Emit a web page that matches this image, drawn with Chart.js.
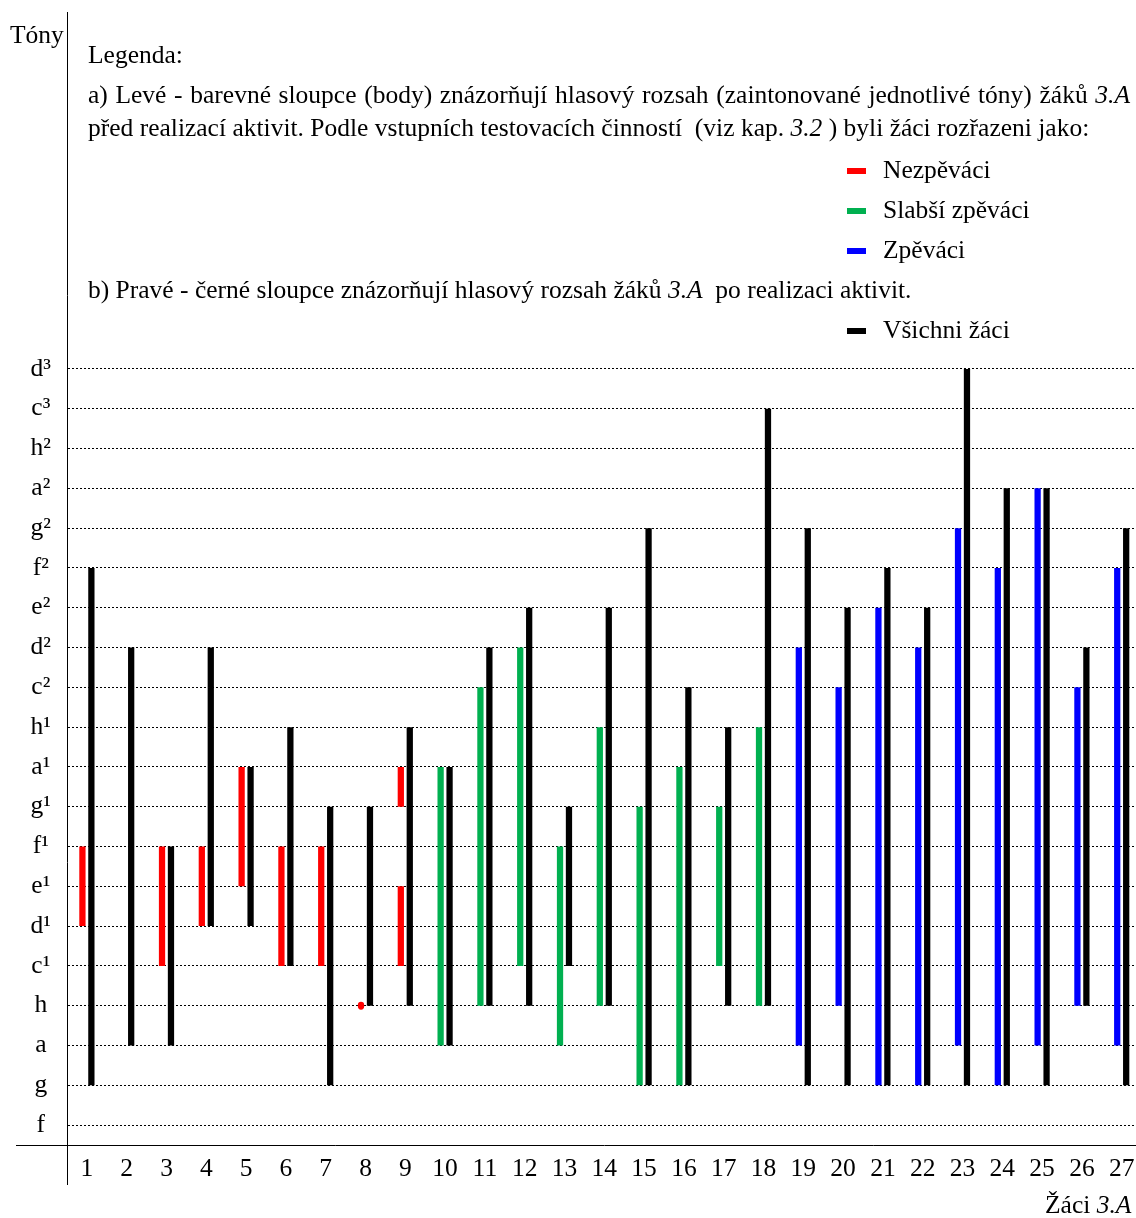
<!DOCTYPE html>
<html><head><meta charset="utf-8">
<script src="https://cdn.jsdelivr.net/npm/chart.js@4.4.1/dist/chart.umd.min.js"></script>
<style>
html,body{margin:0;padding:0;background:#fff;overflow:hidden;}
#wrap{position:relative;width:1136px;height:1218px;overflow:hidden;background:#fff;}
#c{position:absolute;left:0;top:0;}
.t{position:absolute;font-family:'Liberation Serif','Times New Roman',serif;font-size:25.5px;line-height:24px;color:#000;white-space:pre;}
.j{white-space:nowrap;text-align:justify;text-align-last:justify;}
.sw{position:absolute;width:19px;height:6px;}
</style></head><body>
<div id="wrap"><canvas id="c" width="1150" height="1218"></canvas><div id="txt"></div></div>
<script>
// ---- data ----
const tones = ['f','g','a','h','c¹','d¹','e¹','f¹','g¹','a¹','h¹','c²','d²','e²','f²','g²','a²','h²','c³','d³'];
const students = ['1','2','3','4','5','6','7','8','9','10','11','12','13','14','15','16','17','18','19','20','21','22','23','24','25','26','27'];
const groupNames = ['Nezpěváci','Slabší zpěváci','Zpěváci'];
const groupColors = ['#ff0000','#00b050','#0000ff'];
const afterName = 'Všichni žáci';
const afterColor = '#000000';
// group of each student before the activities (index into groupNames)
const studentGroup = [0,null,0,0,0,0,0,0,0,1,1,1,1,1,1,1,1,1,2,2,2,2,2,2,2,2,2];
// voice range before activities (coloured columns)
const beforeLow  = ['d¹',null,'c¹','d¹','e¹','c¹','c¹','h','c¹','a','h','c¹','a','h','g','g','c¹','h','a','h','g','g','a','g','a','h','a'];
const beforeHigh = ['f¹',null,'f¹','f¹','a¹','f¹','f¹','h','e¹','a¹','c²','d²','f¹','h¹','g¹','a¹','g¹','h¹','d²','c²','e²','d²','g²','f²','a²','c²','f²'];
// second separate segment (student 9)
const beforeExtraLow  = [null,null,null,null,null,null,null,null,'g¹',null,null,null,null,null,null,null,null,null,null,null,null,null,null,null,null,null,null];
const beforeExtraHigh = [null,null,null,null,null,null,null,null,'a¹',null,null,null,null,null,null,null,null,null,null,null,null,null,null,null,null,null,null];
// voice range after activities (black columns)
const afterLow  = ['g','a','a','d¹','d¹','c¹','g','h','h','a','h','h','c¹','h','g','g','h','h','g','g','g','g','g','g','g','h','g'];
const afterHigh = ['f²','d²','f¹','d²','a¹','h¹','g¹','g¹','h¹','a¹','d²','e²','g¹','e²','g²','c²','h¹','c³','g²','e²','f²','e²','d³','a²','a²','d²','g²'];

// ---- helpers ----
const ti = n => tones.indexOf(n);
function range(lo, hi){
  if (lo == null || hi == null) return null;
  const a = ti(lo), b = ti(hi);
  if (a === b) return [a - 0.1, a + 0.1]; // single tone = dot
  return [a, b];
}
const font = {family:"'Liberation Serif','Times New Roman',serif", size:25.5};

const datasets = groupNames.map((name, g) => ({
  label: name,
  stack: 'before',
  backgroundColor: groupColors[g],
  data: students.map((s, i) => studentGroup[i] === g ? range(beforeLow[i], beforeHigh[i]) : null),
  borderRadius: c => (c.raw && Math.abs(c.raw[1]-c.raw[0]) < 0.5) ? 5 : 0
}));
datasets.splice(1, 0, {
  label: groupNames[0] + ' ',
  stack: 'before',
  backgroundColor: groupColors[0],
  data: students.map((s, i) => range(beforeExtraLow[i], beforeExtraHigh[i]))
});
datasets.push({
  label: afterName,
  stack: 'after',
  backgroundColor: afterColor,
  data: students.map((s, i) => range(afterLow[i], afterHigh[i]))
});

const axisExt = {
  id: 'axisExt',
  afterDraw(chart){
    const {ctx, chartArea:a} = chart;
    ctx.save();
    ctx.strokeStyle = '#000'; ctx.lineWidth = 1;
    ctx.beginPath();
    ctx.moveTo(16, Math.round(a.bottom)+0.5); ctx.lineTo(a.left, Math.round(a.bottom)+0.5);
    ctx.moveTo(Math.round(a.left)+0.5, a.bottom); ctx.lineTo(Math.round(a.left)+0.5, a.bottom + 40);
    ctx.stroke();
    ctx.restore();
  }
};

new Chart(document.getElementById('c'), {
  type: 'bar',
  data: { labels: students, datasets },
  plugins: [axisExt],
  options: {
    responsive: false, animation: false, devicePixelRatio: 1,
    layout: { padding: { left: 0, top: 12, right: 8.4, bottom: 0 } },
    categoryPercentage: 0.45, barPercentage: 0.7,
    borderSkipped: false,
    plugins: { legend: { display: false }, tooltip: { enabled: false } },
    scales: {
      x: {
        grid: { display: false, drawTicks: false },
        border: { display: true, color: '#000', width: 1 },
        ticks: { font, color: '#000', padding: 9, maxRotation: 0, autoSkip: false },
        afterFit: s => { s.height = 73; s.paddingLeft = 0; s.paddingRight = 0; }
      },
      y: {
        min: -0.5, max: 27.97, stacked: false,
        afterBuildTicks: s => { s.ticks = tones.map((t, i) => ({ value: i })); },
        grid: { color: '#000', lineWidth: 1, drawTicks: false },
        border: { display: true, color: '#000', width: 1, dash: [2, 2] },
        ticks: { font, color: '#000', padding: 16, crossAlign: 'center', autoSkip: false,
                 callback: v => tones[v] },
        afterFit: s => { s.width = 67; s.paddingTop = 0; s.paddingBottom = 0; }
      }
    }
  }
});

// ---- text / legend overlay ----
const txt = document.getElementById('txt');
function addText(x, centerY, html){
  const d = document.createElement('div');
  d.className = 't'; d.style.left = x + 'px'; d.style.top = (centerY - 12) + 'px';
  d.innerHTML = html; txt.appendChild(d); return d;
}
function addSwatch(x, centerY, color){
  const d = document.createElement('div');
  d.className = 'sw'; d.style.left = x + 'px'; d.style.top = (centerY - 3) + 'px';
  d.style.background = color; txt.appendChild(d);
}
addText(10, 35, 'Tóny');
addText(88, 55, 'Legenda:');
const la = addText(88, 95, 'a) Levé - barevné sloupce (body) znázorňují hlasový rozsah (zaintonované jednotlivé tóny) žáků <i>3.A</i>');
la.classList.add('j'); la.style.width = '1042px';
addText(88, 128, 'před realizací aktivit. Podle vstupních testovacích činností  (viz kap. <i>3.2</i> ) byli žáci rozřazeni jako:');
groupNames.forEach((n, g) => { addSwatch(847, 171 + g*40, groupColors[g]); addText(883, 170 + g*40, n); });
addText(88, 290, 'b) Pravé - černé sloupce znázorňují hlasový rozsah žáků <i>3.A</i>  po realizaci aktivit.');
addSwatch(847, 331, afterColor); addText(883, 330, afterName);
addText(1045, 1205, 'Žáci <i>3.A</i>');
</script>
</body></html>
